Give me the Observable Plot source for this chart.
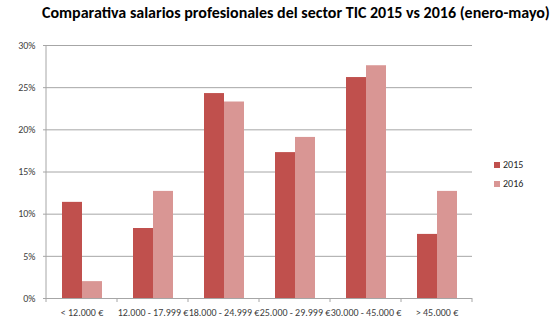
<!DOCTYPE html>
<html>
<head>
<meta charset="utf-8">
<script src="https://cdn.jsdelivr.net/npm/d3@7"></script>
<script src="https://cdn.jsdelivr.net/npm/@observablehq/plot@0.6"></script>
<style>
  html, body { margin: 0; padding: 0; background: #fff; }
  #wrap { position: relative; width: 555px; height: 323px; overflow: hidden; }
  #title { position: absolute; left: 42px; top: 3px; font-family: Carlito, "Open Sans", sans-serif; font-weight: bold; font-size: 16px; color: #000; white-space: nowrap; }
  #legend { position: absolute; left: 494px; top: 155px; font-family: Carlito, "Liberation Sans", sans-serif; font-size: 10px; color: #262626; }
  .item { display: flex; align-items: center; height: 19px; }
  .sw { width: 6px; height: 6px; margin-right: 3px; }
</style>
</head>
<body>
<div id="wrap">
  <div id="title">Comparativa salarios profesionales del sector TIC 2015 vs 2016 (enero-mayo)</div>
  <div id="legend"></div>
</div>
<script>
const categories = ["< 12.000 €", "12.000 - 17.999 €", "18.000 - 24.999 €", "25.000 - 29.999 €", "30.000 - 45.000 €", "> 45.000 €"];
const years = ["2015", "2016"];
const values2015 = [11.4, 8.3, 24.3, 17.3, 26.2, 7.6];
const values2016 = [2.0, 12.7, 23.3, 19.1, 27.6, 12.7];
const yTicks = [0, 5, 10, 15, 20, 25, 30];
const colors = ["#C0504D", "#D99694"];

const data = categories.flatMap((c, i) => [
  {cat: c, year: years[0], value: values2015[i]},
  {cat: c, year: years[1], value: values2016[i]}
]);

const plot = Plot.plot({
  width: 555,
  height: 323,
  marginLeft: 43,
  marginRight: 81,
  marginTop: 45,
  marginBottom: 25,
  style: {fontFamily: 'Carlito, "Liberation Sans", sans-serif', fontSize: "10px", color: "#404040", background: "transparent", overflow: "visible"},
  fx: {domain: categories, padding: 0, label: null},
  x: {domain: years, paddingInner: 0, paddingOuter: 0.74, axis: null},
  y: {domain: [0, 30], label: null},
  color: {domain: years, range: colors},
  marks: [
    Plot.gridY(yTicks, {stroke: "#a6a6a6", strokeOpacity: 1}),
    Plot.barY(data, {fx: "cat", x: "year", y: "value", fill: "year"}),
    Plot.ruleY([0], {stroke: "#a6a6a6"}),
    Plot.axisY(yTicks, {tickFormat: d => d + "%", tickSize: 3, tickPadding: 8, stroke: "#a6a6a6", label: null}),
    Plot.axisFx({anchor: "bottom", tickSize: 0, tickPadding: 10, label: null})
  ]
});

const wrap = document.getElementById("wrap");
plot.style.position = "absolute";
plot.style.left = "0px";
plot.style.top = "0px";
wrap.insertBefore(plot, wrap.firstChild);

// left axis line and category boundary ticks from library scales
const fx = plot.scale("fx"), y = plot.scale("y");
const svg = d3.select(plot);
const y0 = y.apply(0), y1 = y.apply(30);
const x0 = fx.apply(categories[0]);
svg.append("line").attr("x1", x0).attr("x2", x0).attr("y1", y1).attr("y2", y0)
  .attr("stroke", "#a6a6a6");
const bounds = categories.map(c => fx.apply(c)).concat([fx.apply(categories[categories.length - 1]) + fx.bandwidth]);
svg.append("g").selectAll("line").data(bounds).join("line")
  .attr("x1", d => d).attr("x2", d => d).attr("y1", y0).attr("y2", y0 + 4)
  .attr("stroke", "#a6a6a6");

// legend
const color = plot.scale("color");
const legend = d3.select("#legend");
years.forEach(yr => {
  const it = legend.append("div").attr("class", "item");
  it.append("div").attr("class", "sw").style("background", color.apply(yr));
  it.append("span").text(yr);
});
</script>
</body>
</html>
